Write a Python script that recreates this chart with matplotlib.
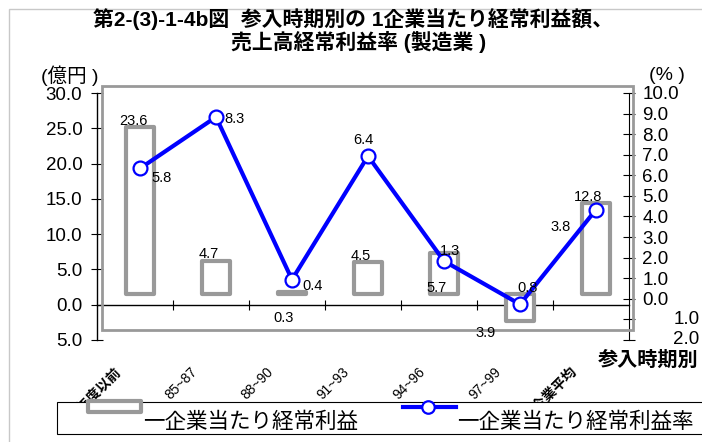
import matplotlib.pyplot as plt
from matplotlib.patches import Rectangle
from matplotlib.lines import Line2D

plt.rcParams['font.family'] = ['Liberation Sans', 'Noto Sans CJK JP']

# 参入時期別の1企業当たり経常利益額（億円）と売上高経常利益率（%）
categories = ['84年度以前', '85~87', '88~90', '91~93', '94~96', '97~99', '全企業平均']
profit = [23.6, 4.7, 0.3, 4.5, 5.7, -3.9, 12.8]
margin = [5.8, 8.3, 0.4, 6.4, 1.3, -0.8, 3.8]
left_ticks = [-5, 0, 5, 10, 15, 20, 25, 30]
right_ticks = [-2, -1, 0, 1, 2, 3, 4, 5, 6, 7, 8, 9, 10]

W, H = 702, 442


def fx(x):
    return x / W


def fy(y):
    return 1 - y / H


fig = plt.figure(figsize=(W / 100, H / 100), dpi=100)
x = list(range(len(categories)))

# 目盛り用の軸
ax = fig.add_axes([fx(97), fy(340), 532 / W, 247 / H])
ax.set_xlim(-0.5, 6.5)
ax.set_ylim(-5, 30)
for s in ['top', 'right']:
    ax.spines[s].set_visible(False)
ax.spines['bottom'].set_position(('data', 0))
ax.spines['bottom'].set_linewidth(1)
ax.spines['left'].set_linewidth(1)
ax.set_xticks([i + 0.5 for i in x[:-1]])
ax.tick_params(axis='x', direction='inout', length=7, labelbottom=False)
ax.set_yticks(left_ticks)
ax.set_yticklabels(['%.1f' % abs(t) for t in left_ticks])
ax.tick_params(axis='y', direction='inout', length=9, pad=6, labelsize=13.5)

ax2 = ax.twinx()
ax2.set_ylim(-2, 10)
for s in ['top', 'left', 'bottom']:
    ax2.spines[s].set_visible(False)
ax2.set_yticks(right_ticks)
ax2.set_yticklabels(['%.1f' % t if t >= 0 else '' for t in right_ticks])
ax2.tick_params(axis='y', direction='inout', length=9, pad=5, labelsize=13.5)
for t in right_ticks:
    if t < 0:
        ax2.text(1.083, t, '%.1f' % abs(t), transform=ax2.get_yaxis_transform(),
                 ha='left', va='center', fontsize=13.5)

# 横軸ラベル
for i, c in enumerate(categories):
    bold = i in (0, len(categories) - 1)
    ax.annotate(c, xy=(i, -0.113), xycoords=('data', 'axes fraction'),
                xytext=(-21, 3), textcoords='offset pixels', rotation=45,
                rotation_mode='anchor', ha='right', va='top', fontsize=10,
                fontweight='bold' if bold else 'normal', annotation_clip=False)

# グラフ領域の枠
fig.add_artist(Rectangle((fx(102), fy(330)), 531 / W, 244 / H, transform=fig.transFigure,
                         fill=False, edgecolor='#999999', lw=2, zorder=1))

# データ描画用の軸
axd = fig.add_axes([fx(102), fy(329), 532 / W, 247 / H])
axd.set_xlim(-0.5, 6.5)
axd.set_ylim(-5, 30)
axd.axis('off')
axd.set_zorder(2)
axd2 = axd.twinx()
axd2.set_ylim(-2, 10)
axd2.axis('off')
axd2.set_zorder(3)

axd.bar(x, profit, width=0.38, facecolor='white', edgecolor='#999999',
        linewidth=3, joinstyle='round')
axd2.plot(x, margin, color='#0000ff', lw=3, marker='o', ms=10,
          mfc='white', mec='#0000ff', mew=1.6)

bar_off = [(-7, 6), (-7, 7), (-8, -26), (-7, 6), (-7, -35), (-34, -12), (-8, 6)]
for i, v in enumerate(profit):
    axd.annotate('%.1f' % abs(v), xy=(i, v), xytext=bar_off[i], textcoords='offset pixels',
                 ha='center', va='center', fontsize=10.5, annotation_clip=False)

line_off = [(22, -10), (18, -2), (21, -6), (-5, 16), (6, 10), (8, 16), (-35, -17)]
for i, v in enumerate(margin):
    axd2.annotate('%.1f' % abs(v), xy=(i, v), xytext=line_off[i], textcoords='offset pixels',
                  ha='center', va='center', fontsize=10.5, annotation_clip=False)

# タイトルと軸の単位
fig.text(fx(353), fy(19), '第2-(3)-1-4b図  参入時期別の 1企業当たり経常利益額、',
         ha='center', va='center', fontsize=15, fontweight='bold')
fig.text(fx(359), fy(42), '売上高経常利益率 (製造業 )',
         ha='center', va='center', fontsize=15, fontweight='bold')
fig.text(fx(70), fy(76), '(億円 )', ha='center', va='center', fontsize=14)
fig.text(fx(667), fy(76), '(% )', ha='center', va='center', fontsize=14)
fig.text(fx(648), fy(360), '参入時期別', ha='center', va='center', fontsize=14.5,
         fontweight='bold')

# 外枠
fig.add_artist(Rectangle((fx(9), fy(460)), 711 / W, 451 / H, transform=fig.transFigure,
                         fill=False, edgecolor='#c8c8c8', lw=1, zorder=1))

# 凡例
fig.add_artist(Rectangle((fx(57), fy(434)), 683 / W, 32 / H, transform=fig.transFigure,
                         facecolor='white', edgecolor='black', lw=0.8, zorder=5))
fig.add_artist(Rectangle((fx(88), fy(412)), 53 / W, 11 / H, transform=fig.transFigure,
                         facecolor='white', edgecolor='#999999', lw=3, joinstyle='round',
                         zorder=6))
fig.text(fx(143), fy(422), '一企業当たり経常利益', ha='left', va='center', fontsize=15.5,
         zorder=6)
fig.add_artist(Line2D([fx(403), fx(456)], [fy(407), fy(407)], transform=fig.transFigure,
                      color='#0000ff', lw=3, zorder=6))
fig.add_artist(Line2D([fx(428)], [fy(407)], transform=fig.transFigure, marker='o', ms=9,
                      mfc='white', mec='#0000ff', mew=1.6, lw=0, zorder=7))
fig.text(fx(457), fy(422), '一企業当たり経常利益率', ha='left', va='center', fontsize=15.5,
         zorder=6)

fig.savefig('out.png', dpi=100)
